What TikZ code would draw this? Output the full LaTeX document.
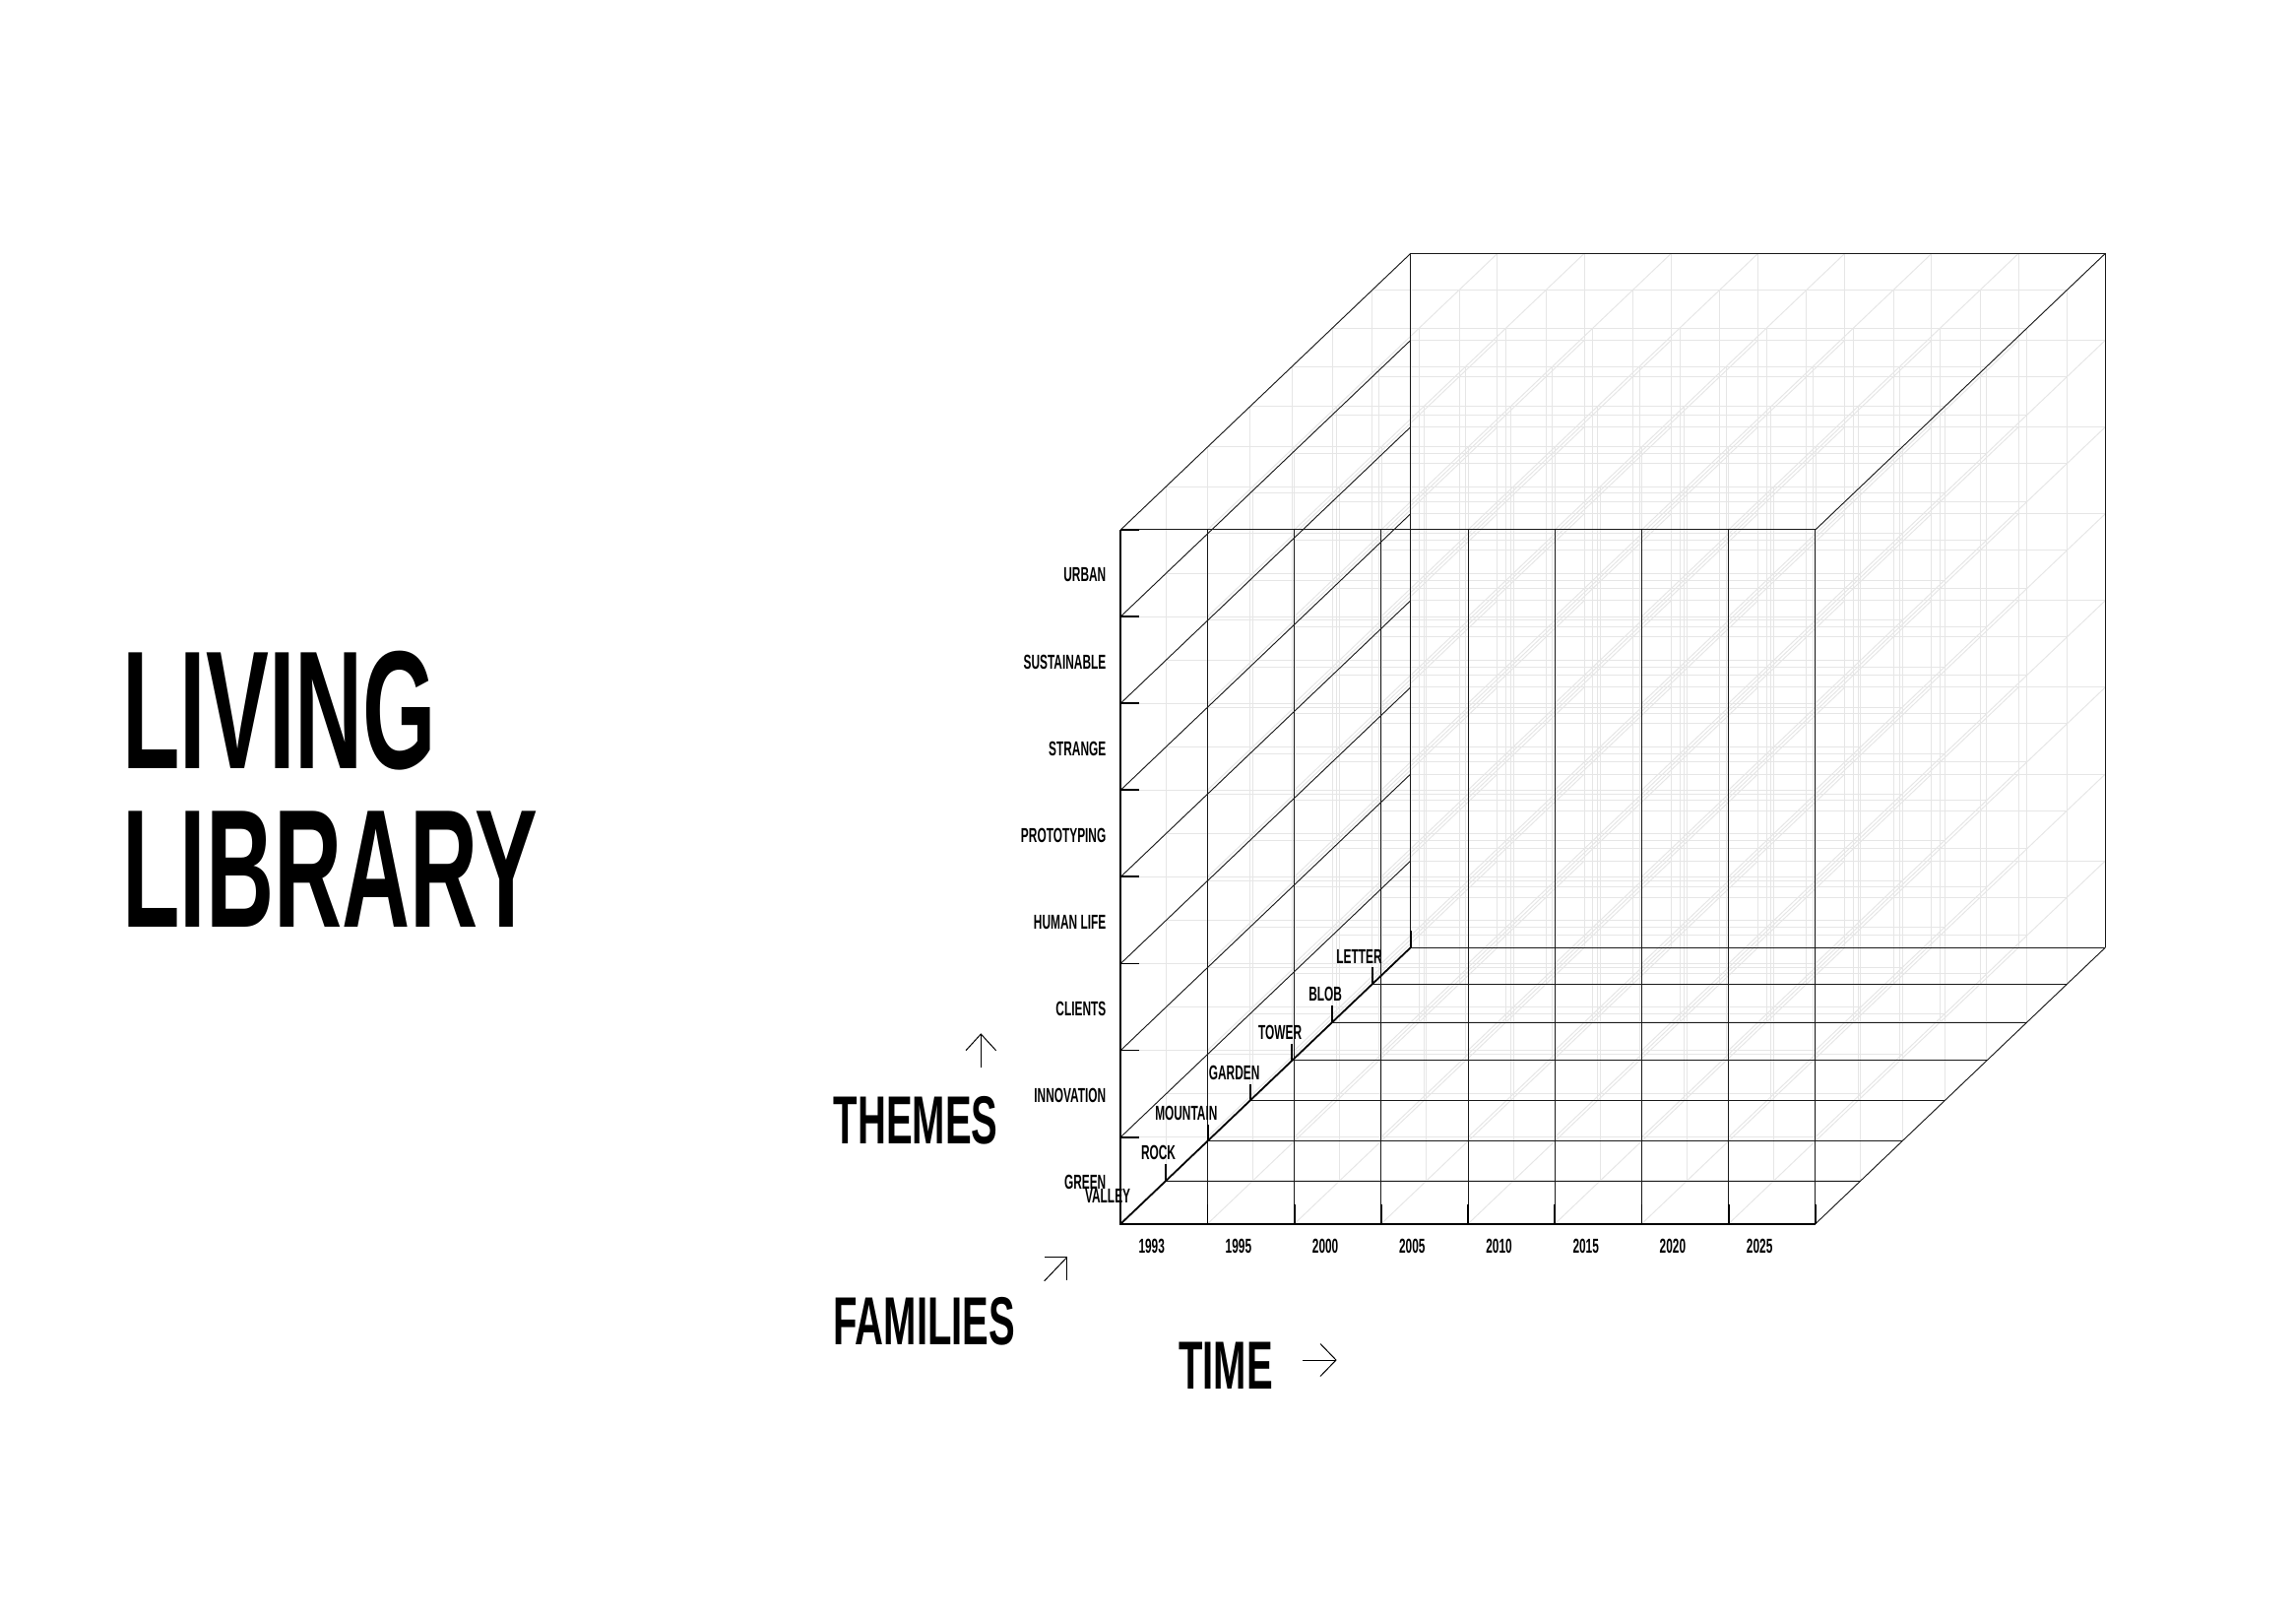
\documentclass[tikz,border=0pt]{standalone}
\usepackage{fontspec}
\usetikzlibrary{calc}
\newfontfamily\din[FakeStretch=0.58]{Liberation Sans}
\newfontfamily\dinbig[FakeStretch=0.56]{Liberation Sans}
\definecolor{gridgrey}{HTML}{E6E6E6}
\definecolor{ink}{HTML}{1A1A1A}
\tikzset{
  gridline/.style={draw=gridgrey, line width=1pt},
  thinline/.style={draw=ink, line width=0.9pt},
  thickline/.style={draw=black, line width=1.8pt},
  tickline/.style={draw=black, line width=1.8pt},
  lab/.style={font=\din\bfseries\fontsize{20.5}{20.5}\selectfont, inner sep=0pt},
  bigtitle/.style={font=\dinbig\bfseries\fontsize{171}{171}\selectfont, inner sep=0pt, anchor=base west},
  axistitle/.style={font=\din\bfseries\fontsize{69}{69}\selectfont, inner sep=0pt, anchor=base west},
  glypharrow/.style={draw=black, line width=1pt}
}
\begin{document}
\begin{tikzpicture}[x=1pt,y=-1pt]
\useasboundingbox (0,0) rectangle (2332,1644);
% lattice points p-i-j-k : i time, j theme, k family depth
\foreach \k/\f in {0/0,1/0.156,2/0.300,3/0.446,4/0.591,5/0.730,6/0.868,7/1}{
  \foreach \i in {0,...,8}{
    \foreach \j in {0,...,8}{
      \coordinate (p-\i-\j-\k) at ({1138.3+88.2*\i+294.4*\f},{1242.7-88.1*\j-280.5*\f});
    }
  }
}
% light grey lattice
\foreach \k in {0,...,7}{
  \foreach \i in {0,...,8}{ \draw[gridline] (p-\i-0-\k) -- (p-\i-8-\k); }
  \foreach \j in {0,...,8}{ \draw[gridline] (p-0-\j-\k) -- (p-8-\j-\k); }
}
\foreach \i in {0,...,8}{
  \foreach \j in {0,...,8}{ \draw[gridline] (p-\i-\j-0) -- (p-\i-\j-7); }
}
% dark structure
\foreach \i in {1,...,8}{ \draw[thinline] (p-\i-0-0) -- (p-\i-8-0); }
\draw[thinline] (p-0-8-0) -- (p-8-8-0);
\foreach \j in {1,...,8}{ \draw[thinline] (p-0-\j-0) -- (p-0-\j-7); }
\foreach \k in {1,...,7}{ \draw[thinline] (p-0-0-\k) -- (p-8-0-\k); }
\draw[thinline] (p-0-0-7) -- (p-0-8-7) -- (p-8-8-7) -- (p-8-0-7);
\draw[thinline] (p-8-8-0) -- (p-8-8-7);
\draw[thinline] (p-8-0-0) -- (p-8-0-7);
\draw[thickline] (p-0-8-0) -- (p-0-0-0) -- (p-8-0-0);
\draw[thickline] (p-0-0-0) -- (p-0-0-7);
% ticks
\foreach \j in {1,...,8}{ \draw[tickline] (p-0-\j-0) -- ++(19,0); }
\foreach \i in {1,...,8}{ \draw[tickline] (p-\i-0-0) -- ++(0,-20); }
\foreach \k in {1,...,7}{ \draw[tickline] (p-0-0-\k) -- ++(0,-17); }
% theme labels
\foreach \t [count=\n from 0] in {GREEN,INNOVATION,CLIENTS,HUMAN LIFE,PROTOTYPING,STRANGE,SUSTAINABLE,URBAN}{
  \node[lab, anchor=base east] (theme-\n) at ({1123.5},{1251.7-88.1*(\n+0.5)}) {\t};
}
% year labels
\foreach \t [count=\n from 0] in {1993,1995,2000,2005,2010,2015,2020,2025}{
  \node[lab, anchor=base west] (year-\n) at ({1156.3+88.2*\n},1272.7) {\t};
}
% family labels
\foreach \t [count=\n from 0] in {VALLEY,ROCK,MOUNTAIN,GARDEN,TOWER,BLOB,LETTER}{
  \node[lab, anchor=base east] (fam-\n) at ($(p-0-0-\n)+(10,-21)$) {\t};
}
% titles
\node[bigtitle] (living) at (124,780.5) {LIVING};
\node[bigtitle] (library) at (124,941) {LIBRARY};
\node[axistitle] (themes) at (846.5,1161.5) {THEMES};
\node[axistitle] (families) at (846.5,1365) {FAMILIES};
\node[axistitle] (time) at (1197,1410) {TIME};
% glyph arrows
\coordinate (upTail) at (996.3,1084.3);
\coordinate (upTip) at (996.3,1050);
\draw[glypharrow] (upTail) -- (upTip);
\draw[glypharrow] (981,1066.7) -- (upTip) -- (1011.6,1066.7);
\coordinate (neTail) at (1060.7,1300.7);
\coordinate (neTip) at (1083.7,1276.7);
\draw[glypharrow] (neTail) -- (neTip);
\draw[glypharrow] (1061.3,1276.7) -- (neTip) -- (1083.7,1300);
\coordinate (rtTail) at (1323,1381);
\coordinate (rtTip) at (1357,1381);
\draw[glypharrow] (rtTail) -- (rtTip);
\draw[glypharrow] (1341,1364.5) -- (rtTip) -- (1341,1397.5);
\end{tikzpicture}
\end{document}
